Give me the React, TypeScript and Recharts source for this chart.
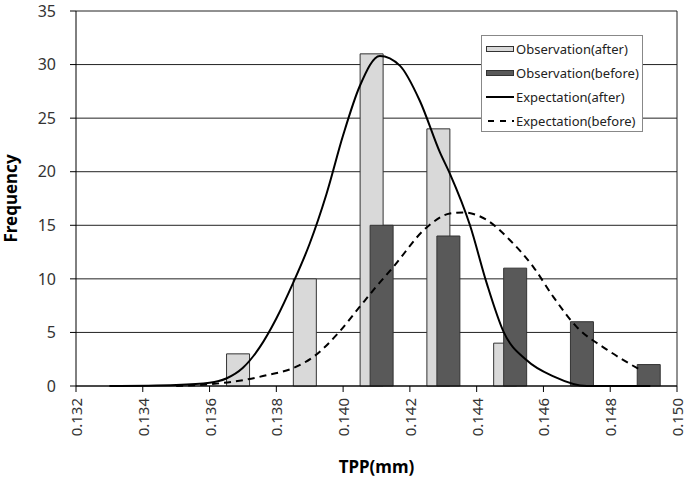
import { Bar, CartesianGrid, ComposedChart, Label, Legend, Line, ReferenceLine, XAxis, YAxis } from "recharts"

// bin centres (mm) and observed counts
const binCentres = [0.137, 0.139, 0.141, 0.143, 0.145, 0.147, 0.149]
const observedAfter = [3, 10, 31, 24, 4, 0, 0]
const observedBefore = [0, 0, 15, 14, 11, 6, 2]

// expectation curves
const afterCurveX = [0.133, 0.135, 0.136, 0.1365, 0.137, 0.1375, 0.138, 0.1385, 0.139, 0.1395, 0.14, 0.1405, 0.1411, 0.1417, 0.1423, 0.1429, 0.1432, 0.1438, 0.1443, 0.1448, 0.1455, 0.1463, 0.1473, 0.1492]
const afterCurveY = [0, 0.1, 0.3, 0.7, 1.7, 3.6, 6.3, 9.6, 13.3, 17.9, 23.4, 28, 30.8, 29.9, 26.6, 21.8, 19.8, 15, 9.6, 5.1, 2.4, 0.9, 0, 0]
const beforeCurveX = [0.135, 0.1357, 0.1367, 0.1377, 0.1386, 0.1391, 0.1399, 0.1405, 0.141, 0.1415, 0.1425, 0.1432, 0.1436, 0.1443, 0.145, 0.1457, 0.1463, 0.147, 0.1479, 0.1489]
const beforeCurveY = [0, 0.1, 0.4, 1, 1.8, 2.7, 5.1, 7.4, 9.3, 11.1, 14.8, 16.1, 16.2, 15.5, 13.6, 11.1, 8.3, 5.5, 3.4, 1.5]

const xTicks = [0.132, 0.134, 0.136, 0.138, 0.14, 0.142, 0.144, 0.146, 0.148, 0.15]
const yTicks = [0, 5, 10, 15, 20, 25, 30, 35]

const seriesNames = ["Observation(after)", "Observation(before)", "Expectation(after)", "Expectation(before)"]

const barData = binCentres.map((x, i) => ({ x, after: observedAfter[i], before: observedBefore[i] }))
const afterCurve = afterCurveX.map((x, i) => ({ x, y: afterCurveY[i] }))
const beforeCurve = beforeCurveX.map((x, i) => ({ x, y: beforeCurveY[i] }))

const FONT = "'Noto Sans', sans-serif"

const XTick = ({ x, y, payload }: any) => (
  <g transform={`translate(${x},${y})`}>
    <text
      transform="rotate(-90)"
      textAnchor="end"
      dominantBaseline="central"
      fontSize={15}
      fill="#333"
      fontFamily={FONT}
    >
      {payload.value.toFixed(3)}
    </text>
  </g>
)

const ChartLegend = () => (
  <div
    style={{
      border: "1px solid #888",
      background: "#fff",
      fontFamily: FONT,
      fontSize: 13,
      color: "#222",
      padding: "1px 0 0 4px",
      boxSizing: "border-box",
      width: 162,
      height: 97,
    }}
  >
    {seriesNames.map((name, i) => (
      <div key={name} style={{ display: "flex", alignItems: "center", height: 24 }}>
        <svg width={28} height={10} style={{ marginRight: 2 }}>
          {i === 0 && <rect x={0.5} y={2.5} width={27} height={5} fill="#d9d9d9" stroke="#333" />}
          {i === 1 && <rect x={0.5} y={2.5} width={27} height={5} fill="#595959" stroke="#333" />}
          {i === 2 && <line x1={0} x2={28} y1={5} y2={5} stroke="#000" strokeWidth={2} />}
          {i === 3 && <line x1={2} x2={28} y1={5} y2={5} stroke="#000" strokeWidth={2} strokeDasharray="6 6" />}
        </svg>
        <span>{name}</span>
      </div>
    ))}
  </div>
)

export default function App() {
  return (
    <div style={{ position: "absolute", left: 0, top: 0 }}>
      <ComposedChart
        width={685}
        height={485}
        data={barData}
        barGap={-13}
        margin={{ top: 11, right: 8, left: 0, bottom: 0 }}
      >
        <CartesianGrid horizontal vertical={false} stroke="#222" />
        <XAxis xAxisId="bars" type="number" dataKey="x" domain={[0.132, 0.15]} hide height={0} allowDataOverflow />
        <XAxis
          xAxisId="num"
          type="number"
          dataKey="x"
          domain={[0.132, 0.15]}
          ticks={xTicks}
          interval={0}
          allowDataOverflow
          height={99}
          tick={<XTick />}
          tickSize={6}
          tickMargin={6}
          axisLine={{ stroke: "#000" }}
          tickLine={{ stroke: "#000" }}
        >
          <Label
            content={({ viewBox }: any) => (
              <text
                x={viewBox.x + viewBox.width / 2}
                y={viewBox.y + 80}
                textAnchor="middle"
                dominantBaseline="central"
                fontSize={17}
                fontWeight="bold"
                fontFamily={FONT}
                fill="#000"
              >
                TPP(mm)
              </text>
            )}
          />
        </XAxis>
        <YAxis
          domain={[0, 35]}
          ticks={yTicks}
          interval={0}
          width={76}
          tickSize={6}
          tickMargin={14}
          axisLine={{ stroke: "#000" }}
          tickLine={{ stroke: "#000" }}
          tick={{ fontSize: 16, fill: "#333", fontFamily: FONT }}
        >
          <Label
            content={({ viewBox }: any) => {
              const cy = viewBox.y + viewBox.height / 2
              return (
                <text
                  x={10}
                  y={cy}
                  transform={`rotate(-90, 10, ${cy})`}
                  textAnchor="middle"
                  dominantBaseline="central"
                  fontSize={17}
                  fontWeight="bold"
                  fontFamily={FONT}
                  fill="#000"
                >
                  Frequency
                </text>
              )
            }}
          />
        </YAxis>
        <ReferenceLine xAxisId="num" x={0.15} stroke="#222" />
        <Bar
          xAxisId="bars"
          dataKey="after"
          name={seriesNames[0]}
          fill="#d9d9d9"
          stroke="#333"
          barSize={23}
          isAnimationActive={false}
        />
        <Bar
          xAxisId="bars"
          dataKey="before"
          name={seriesNames[1]}
          fill="#595959"
          stroke="#333"
          barSize={23}
          isAnimationActive={false}
        />
        <Line
          xAxisId="num"
          data={afterCurve}
          dataKey="y"
          name={seriesNames[2]}
          type="monotone"
          stroke="#000"
          strokeWidth={2}
          dot={false}
          isAnimationActive={false}
        />
        <Line
          xAxisId="num"
          data={beforeCurve}
          dataKey="y"
          name={seriesNames[3]}
          type="monotone"
          stroke="#000"
          strokeWidth={2}
          strokeDasharray="7 5"
          dot={false}
          isAnimationActive={false}
        />
        <Legend
          layout="vertical"
          align="center"
          verticalAlign="middle"
          content={<ChartLegend />}
          wrapperStyle={{ left: 481, top: 35, width: 162, height: 97 }}
        />
      </ComposedChart>
    </div>
  )
}
